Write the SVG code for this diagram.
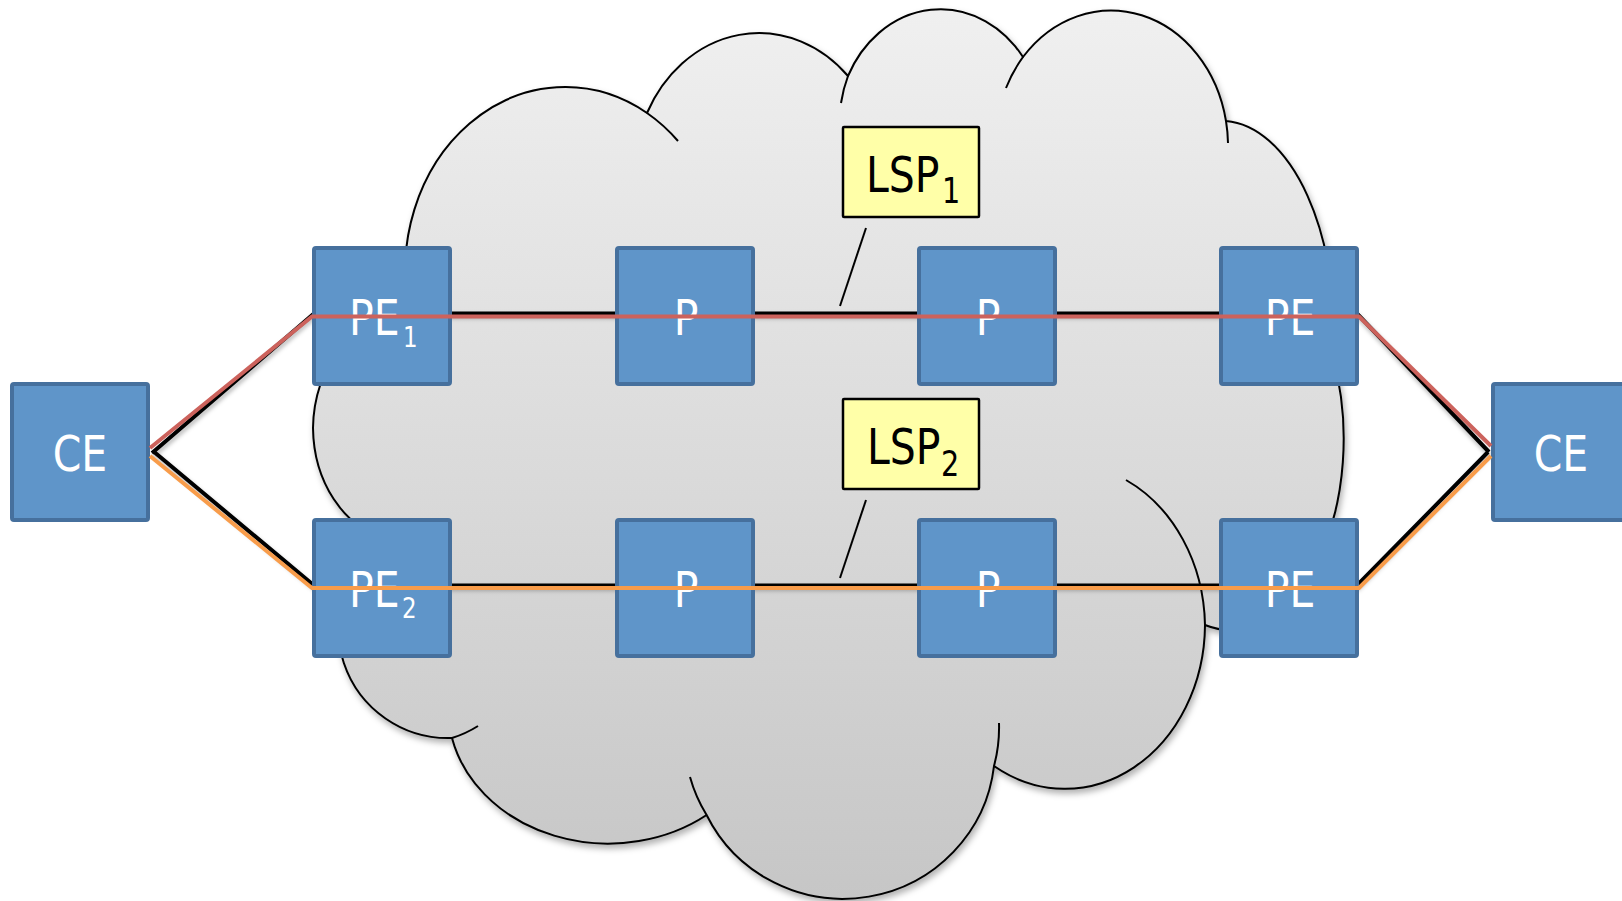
<svg xmlns="http://www.w3.org/2000/svg" width="1622" height="901" viewBox="0 0 1622 901">
<defs>
<linearGradient id="cloudGrad" gradientUnits="userSpaceOnUse" x1="0" y1="8" x2="0" y2="900">
<stop offset="0" stop-color="#f0f0f0"/>
<stop offset="1" stop-color="#c6c6c6"/>
</linearGradient>
<filter id="shadow" x="-10%" y="-10%" width="120%" height="125%">
<feDropShadow dx="2" dy="4" stdDeviation="3" flood-color="#000" flood-opacity="0.3"/>
</filter>
<filter id="lineShadow" x="-5%" y="-20%" width="110%" height="140%">
<feDropShadow dx="1" dy="3" stdDeviation="2" flood-color="#000" flood-opacity="0.3"/>
</filter>
</defs>
<style>
.cloud{fill:url(#cloudGrad);stroke:#000;stroke-width:2;stroke-linejoin:round}
.inner{fill:none;stroke:#000;stroke-width:2;stroke-linecap:butt}
.node rect{fill:#5f95c9;stroke:#46709d;stroke-width:4}
.node text{fill:#ffffff;font-family:"DejaVu Sans","Liberation Sans",sans-serif;font-size:50px}
.sub{font-size:28px}
.lsp rect{fill:#ffffa8;stroke:#000;stroke-width:2.5}
.lsp text{fill:#000;font-family:"DejaVu Sans","Liberation Sans",sans-serif;font-size:50px}
.lsp .sub{font-size:35px}
.lsp line{stroke:#000;stroke-width:2}
.mid{text-anchor:middle}
.base{fill:none;stroke:#000;stroke-width:4;stroke-linejoin:miter}
.red{fill:none;stroke:#cc625c;stroke-width:4}
.orange{fill:none;stroke:#f89c4a;stroke-width:4}
</style>

<g id="cloud">
<path class="cloud" filter="url(#shadow)" d="M 647 113 A 125 144 0 0 1 848 76 A 103 119 0 0 1 1023 57 A 117 136 0 0 1 1226 121 A 113 210 0 0 1 1333 358 A 113 191 0 0 1 1205 625 A 140 165 0 0 1 994 766 A 152 150 0 0 1 706.6 815 A 160 135 0 0 1 452 738 A 110 110 0 0 1 385 538 A 90 114 0 0 1 313 428 A 90 114 0 0 1 410 316 A 160 184 0 0 1 647 113 Z"/>
<path class="inner" d="M 647 113 A 160 184 0 0 1 678 141"/>
<path class="inner" d="M 848 76 A 103 119 0 0 0 841 103"/>
<path class="inner" d="M 1023 57 A 117 136 0 0 0 1006 88"/>
<path class="inner" d="M 1226 121 A 117 136 0 0 1 1228 143"/>
<path class="inner" d="M 1205 625 A 140 165 0 0 0 1126 480"/>
<path class="inner" d="M 994 766 A 152 150 0 0 0 999 723"/>
<path class="inner" d="M 706.6 815 A 152 150 0 0 1 690 777"/>
<path class="inner" d="M 452 738 A 110 110 0 0 0 478 726"/>
</g>

<g id="connectors-base" filter="url(#lineShadow)">
<path class="base" d="M 152 453 L 314 313.5 L 1357 313.5 L 1489 452"/>
<path class="base" d="M 153 451 L 314 585.5 L 1357 585.5 L 1488 452"/>
</g>

<g id="node-ce-left" class="node"><rect x="12" y="384" width="136" height="136" rx="2"/><text class="mid" transform="translate(80,471) scale(0.82,1)">CE</text></g>
<g id="node-pe1" class="node"><rect x="314" y="248" width="136" height="136" rx="2"/><text transform="translate(349,335) scale(0.82,1)">PE<tspan class="sub" x="65.9" y="12">1</tspan></text></g>
<g id="node-p1-top" class="node"><rect x="617" y="248" width="136" height="136" rx="2"/><text class="mid" transform="translate(686,335) scale(0.82,1)">P</text></g>
<g id="node-p2-top" class="node"><rect x="919" y="248" width="136" height="136" rx="2"/><text class="mid" transform="translate(988,335) scale(0.82,1)">P</text></g>
<g id="node-pe-top-right" class="node"><rect x="1221" y="248" width="136" height="136" rx="2"/><text class="mid" transform="translate(1290,335) scale(0.82,1)">PE</text></g>
<g id="node-pe2" class="node"><rect x="314" y="520" width="136" height="136" rx="2"/><text transform="translate(349,607) scale(0.82,1)">PE<tspan class="sub" x="64.6" y="11">2</tspan></text></g>
<g id="node-p1-bottom" class="node"><rect x="617" y="520" width="136" height="136" rx="2"/><text class="mid" transform="translate(686,607) scale(0.82,1)">P</text></g>
<g id="node-p2-bottom" class="node"><rect x="919" y="520" width="136" height="136" rx="2"/><text class="mid" transform="translate(988,607) scale(0.82,1)">P</text></g>
<g id="node-pe-bottom-right" class="node"><rect x="1221" y="520" width="136" height="136" rx="2"/><text class="mid" transform="translate(1290,607) scale(0.82,1)">PE</text></g>
<g id="node-ce-right" class="node"><rect x="1493" y="384" width="136" height="136" rx="2"/><text class="mid" transform="translate(1561,471) scale(0.82,1)">CE</text></g>

<g id="connectors">
<path class="red" d="M 150 448 L 312 316.5 L 1359 316.5 L 1491 446"/>
<path class="orange" d="M 150 456 L 312 588 L 1359 588 L 1491 456"/>
</g>

<g id="lsp1" class="lsp">
<line x1="866" y1="228" x2="840" y2="306"/>
<rect x="843" y="127" width="136" height="90" rx="1"/>
<text transform="translate(866,192) scale(0.82,1)">LSP<tspan class="sub" x="92.7" y="11">1</tspan></text>
</g>
<g id="lsp2" class="lsp">
<line x1="866" y1="500" x2="840" y2="578"/>
<rect x="843" y="399" width="136" height="90" rx="1"/>
<text transform="translate(867,463.5) scale(0.82,1)">LSP<tspan class="sub" x="90.2" y="12.5">2</tspan></text>
</g>
</svg>
